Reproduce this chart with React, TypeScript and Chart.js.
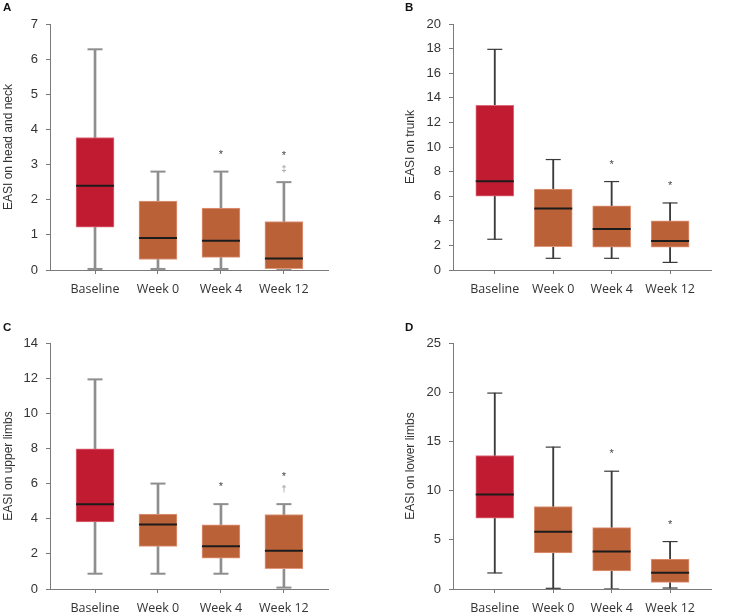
import React, { useEffect, useRef } from 'react';
import { Chart, registerables } from 'chart.js';
Chart.register(...registerables);

const categories = ['Baseline', 'Week 0', 'Week 4', 'Week 12'];
const boxColors = ['#C01B30', '#BA6138', '#BA6138', '#BA6138'];
const boxEdges = ['#DC6E7C', '#E0977A', '#E0977A', '#E0977A'];

// Panel A: EASI on head and neck
const headMin = [0.03, 0.03, 0.03, 0.03];
const headQ1 = [1.22, 0.3, 0.36, 0.04];
const headMedian = [2.4, 0.91, 0.83, 0.33];
const headQ3 = [3.77, 1.96, 1.76, 1.38];
const headMax = [6.28, 2.8, 2.8, 2.5];
const headMarkCat = [2, 3, 3];
const headMarkVal = [3.37, 3.34, 2.88];
const headMarkSym = ['*', '*', '‡'];
const headTicks = [0, 1, 2, 3, 4, 5, 6, 7];

// Panel B: EASI on trunk
const trunkMin = [2.5, 0.95, 0.95, 0.62];
const trunkQ1 = [6.0, 1.9, 1.85, 1.85];
const trunkMedian = [7.22, 4.99, 3.34, 2.36];
const trunkQ3 = [13.38, 6.57, 5.21, 3.99];
const trunkMax = [17.94, 8.98, 7.19, 5.45];
const trunkMarkCat = [2, 3];
const trunkMarkVal = [8.82, 7.08];
const trunkMarkSym = ['*', '*'];
const trunkTicks = [0, 2, 4, 6, 8, 10, 12, 14, 16, 18, 20];

// Panel C: EASI on upper limbs
const upperMin = [0.87, 0.87, 0.87, 0.08];
const upperQ1 = [3.82, 2.43, 1.75, 1.16];
const upperMedian = [4.83, 3.67, 2.43, 2.18];
const upperQ3 = [7.98, 4.26, 3.65, 4.24];
const upperMax = [11.93, 6.0, 4.83, 4.83];
const upperMarkCat = [2, 3, 3];
const upperMarkVal = [5.98, 6.55, 5.68];
const upperMarkSym = ['*', '*', '†'];
const upperTicks = [0, 2, 4, 6, 8, 10, 12, 14];

// Panel D: EASI on lower limbs
const lowerMin = [1.63, 0.07, 0, 0.1];
const lowerQ1 = [7.19, 3.66, 1.83, 0.68];
const lowerMedian = [9.6, 5.83, 3.8, 1.66];
const lowerQ3 = [13.57, 8.38, 6.24, 3.05];
const lowerMax = [19.91, 14.42, 11.97, 4.82];
const lowerMarkCat = [2, 3];
const lowerMarkVal = [14.0, 6.85];
const lowerMarkSym = ['*', '*'];
const lowerTicks = [0, 5, 10, 15, 20, 25];

const X_MIN = -0.715;
const X_MAX = 3.7;
const AXIS_COLOR = '#7a7a7a';

type PanelDef = {
  letter: string;
  title: string;
  min: number[];
  q1: number[];
  median: number[];
  q3: number[];
  max: number[];
  markCat: number[];
  markVal: number[];
  markSym: string[];
  ticks: number[];
  whisker: string;
  whiskerWidth: number;
  left: number;
  top: number;
  width: number;
  height: number;
  padLeft: number;
  padTop: number;
  padRight: number;
  yWidth: number;
  xHeight: number;
  letterLeft: number;
  letterTop: number;
};

const panels: PanelDef[] = [
  {
    letter: 'A', title: 'EASI on head and neck',
    min: headMin, q1: headQ1, median: headMedian, q3: headQ3, max: headMax,
    markCat: headMarkCat, markVal: headMarkVal, markSym: headMarkSym, ticks: headTicks,
    whisker: '#8e8e8e', whiskerWidth: 2,
    left: 0, top: 0, width: 366, height: 300, padLeft: 1, padTop: 24, padRight: 38, yWidth: 49, xHeight: 30,
    letterLeft: 3, letterTop: 1.2,
  },
  {
    letter: 'B', title: 'EASI on trunk',
    min: trunkMin, q1: trunkQ1, median: trunkMedian, q3: trunkQ3, max: trunkMax,
    markCat: trunkMarkCat, markVal: trunkMarkVal, markSym: trunkMarkSym, ticks: trunkTicks,
    whisker: '#3a3a3a', whiskerWidth: 1.2,
    left: 366, top: 0, width: 366, height: 300, padLeft: 37, padTop: 24, padRight: 1, yWidth: 50, xHeight: 30,
    letterLeft: 405, letterTop: 0.9,
  },
  {
    letter: 'C', title: 'EASI on upper limbs',
    min: upperMin, q1: upperQ1, median: upperMedian, q3: upperQ3, max: upperMax,
    markCat: upperMarkCat, markVal: upperMarkVal, markSym: upperMarkSym, ticks: upperTicks,
    whisker: '#8e8e8e', whiskerWidth: 2,
    left: 0, top: 305, width: 366, height: 309, padLeft: 1, padTop: 38, padRight: 38, yWidth: 49, xHeight: 25,
    letterLeft: 3, letterTop: 321,
  },
  {
    letter: 'D', title: 'EASI on lower limbs',
    min: lowerMin, q1: lowerQ1, median: lowerMedian, q3: lowerQ3, max: lowerMax,
    markCat: lowerMarkCat, markVal: lowerMarkVal, markSym: lowerMarkSym, ticks: lowerTicks,
    whisker: '#3a3a3a', whiskerWidth: 1.2,
    left: 366, top: 305, width: 366, height: 309, padLeft: 37, padTop: 38, padRight: 1, yWidth: 50, xHeight: 25,
    letterLeft: 405, letterTop: 321.3,
  },
];

const markPlugin = {
  id: 'marks',
  afterDatasetsDraw(chart: any, _args: any, opts: any) {
    const { ctx, scales } = chart;
    if (!opts || !opts.cats) return;
    ctx.save();
    opts.cats.forEach((c: number, i: number) => {
      const sym = opts.syms[i];
      const isStar = sym === '*';
      ctx.font = isStar ? '11px "Liberation Sans"' : '9px "Liberation Sans"';
      ctx.fillStyle = isStar ? '#444444' : '#8a8a8a';
      ctx.textAlign = 'center';
      ctx.textBaseline = 'alphabetic';
      const m = ctx.measureText(sym);
      const x = scales.x.getPixelForValue(c);
      const y = scales.y.getPixelForValue(opts.vals[i]);
      ctx.fillText(sym, x, y + (m.actualBoundingBoxAscent - m.actualBoundingBoxDescent) / 2);
    });
    ctx.restore();
  },
};

function Panel({ def }: { def: PanelDef }) {
  const ref = useRef<HTMLCanvasElement>(null);
  useEffect(() => {
    const idx = categories.map((_, i) => i);
    const chart = new Chart(ref.current as HTMLCanvasElement, {
      type: 'bar',
      data: {
        datasets: [
          {
            type: 'bar',
            data: idx.map((i) => ({ x: i, y: [def.min[i], def.max[i]] })) as any,
            backgroundColor: def.whisker,
            barThickness: def.whiskerWidth,
            grouped: false,
            order: 4,
          } as any,
          {
            type: 'scatter',
            data: idx.flatMap((i) => [
              { x: i, y: def.min[i] },
              { x: i, y: def.max[i] },
            ]),
            pointStyle: 'line',
            pointRadius: 7.5,
            pointBorderColor: def.whisker,
            pointBorderWidth: def.whiskerWidth,
            borderColor: def.whisker,
            borderWidth: def.whiskerWidth,
            order: 3,
          } as any,
          {
            type: 'bar',
            data: idx.map((i) => ({ x: i, y: [def.q1[i], def.q3[i]] })) as any,
            backgroundColor: boxColors,
            borderColor: boxEdges,
            borderWidth: 1,
            borderSkipped: false,
            barThickness: 38,
            grouped: false,
            order: 2,
          } as any,
          {
            type: 'scatter',
            data: idx.map((i) => ({ x: i, y: def.median[i] })),
            pointStyle: 'line',
            pointRadius: 19,
            pointBorderColor: '#1c1c1c',
            pointBorderWidth: 2,
            borderColor: '#1c1c1c',
            borderWidth: 2,
            order: 1,
          } as any,
        ],
      },
      options: {
        animation: false,
        responsive: false,
        events: [],
        layout: { padding: { left: def.padLeft, top: def.padTop, right: def.padRight, bottom: 0 } },
        plugins: {
          legend: { display: false },
          tooltip: { enabled: false },
          marks: { cats: def.markCat, vals: def.markVal, syms: def.markSym },
        } as any,
        scales: {
          x: {
            type: 'linear',
            min: X_MIN,
            max: X_MAX,
            offset: false,
            afterBuildTicks: (s: any) => {
              s.ticks = categories.map((_, i) => ({ value: i }));
            },
            afterFit: (s: any) => {
              s.height = def.xHeight;
            },
            ticks: {
              callback: (v: any) => categories[v as number] ?? '',
              font: { family: '"Open Sans"', size: 12.5 },
              color: '#333333',
              padding: 8,
              maxRotation: 0,
              autoSkip: false,
            },
            grid: { drawOnChartArea: false, drawTicks: true, tickLength: 4, color: AXIS_COLOR, offset: false },
            border: { display: true, color: AXIS_COLOR, width: 1 },
          },
          y: {
            type: 'linear',
            min: 0,
            max: def.ticks[def.ticks.length - 1],
            afterBuildTicks: (s: any) => {
              s.ticks = def.ticks.map((v) => ({ value: v }));
            },
            afterFit: (s: any) => {
              s.width = def.yWidth;
            },
            ticks: {
              font: { family: '"Liberation Sans"', size: 13 },
              color: '#333333',
              padding: 8,
            },
            grid: { drawOnChartArea: false, drawTicks: true, tickLength: 4, color: AXIS_COLOR },
            border: { display: true, color: AXIS_COLOR, width: 1 },
            title: {
              display: true,
              text: def.title,
              font: { family: '"Liberation Sans"', size: 12 },
              color: '#333333',
              padding: { top: 0, bottom: 0 },
            },
          },
        } as any,
      },
      plugins: [markPlugin as any],
    });
    return () => chart.destroy();
  }, [def]);

  return (
    <>
      <canvas
        ref={ref}
        width={def.width}
        height={def.height}
        style={{ position: 'absolute', left: def.left, top: def.top, width: def.width, height: def.height }}
      />
      <div
        style={{
          position: 'absolute',
          left: def.letterLeft,
          top: def.letterTop,
          font: 'bold 11.5px "Liberation Sans"',
          lineHeight: '12px',
          color: '#111111',
        }}
      >
        {def.letter}
      </div>
    </>
  );
}

export default function App() {
  return (
    <div style={{ position: 'absolute', left: 0, top: 0, width: 732, height: 614, background: '#ffffff', overflow: 'hidden' }}>
      {panels.map((p) => (
        <Panel key={p.letter} def={p} />
      ))}
    </div>
  );
}
